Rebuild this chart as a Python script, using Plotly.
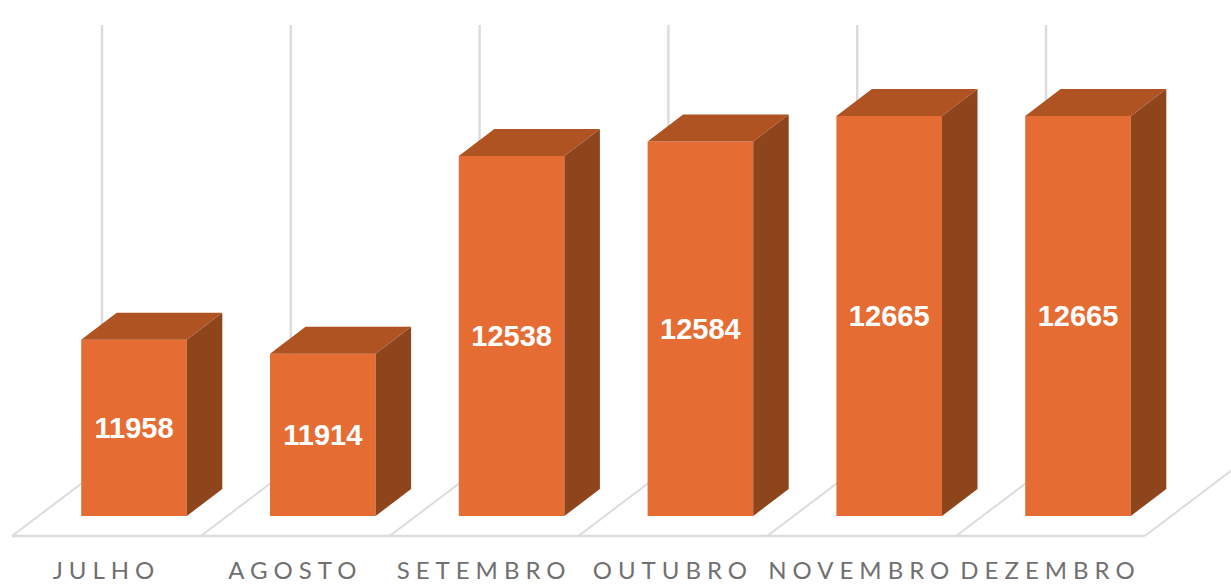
import plotly.graph_objects as go

categories = ["JULHO", "AGOSTO", "SETEMBRO", "OUTUBRO", "NOVEMBRO", "DEZEMBRO"]
values = [11958, 11914, 12538, 12584, 12665, 12665]

W, H = 1231, 585
BOTTOM_MARGIN = 44
SLOT_PX = 188.8
FIRST_CENTER_PX = 134.0
PX_PER_UNIT = 0.3168
BAR_BASE = 11402
BASE_PX = 516.0


def ux(px):
    return px / SLOT_PX


def uy(px):
    return px / PX_PER_UNIT


BAR_WIDTH = ux(105.6)
DEPTH_X = ux(35.5)
DEPTH_Y = uy(27)

FRONT = "#E56D33"
TOP = "#AE5321"
SIDE = "#8F451C"
GRID = "#DCDCDC"
LABEL = "#707070"

axis_px_h = H - BOTTOM_MARGIN
x_range = [ux(-FIRST_CENTER_PX), ux(W - FIRST_CENTER_PX)]
y_low = BAR_BASE - uy(axis_px_h - BASE_PX)
y_range = [y_low, y_low + uy(axis_px_h)]

xs = list(range(len(categories)))
half = BAR_WIDTH / 2

fig = go.Figure()

# front faces
fig.add_trace(go.Bar(
    x=xs,
    y=[v - BAR_BASE for v in values],
    base=BAR_BASE,
    width=BAR_WIDTH,
    marker=dict(color=FRONT, line=dict(width=0)),
    text=[str(v) for v in values],
    textposition="inside",
    insidetextanchor="middle",
    textangle=0,
    constraintext="none",
    insidetextfont=dict(family="Liberation Sans", size=29, color="#FFFFFF", weight="bold"),
    hoverinfo="skip",
))

# side faces
sx, sy = [], []
for i, v in zip(xs, values):
    r = i + half
    sx += [r, r + DEPTH_X, r + DEPTH_X, r, None]
    sy += [BAR_BASE, BAR_BASE + DEPTH_Y, v + DEPTH_Y, v, None]
fig.add_trace(go.Scatter(x=sx, y=sy, mode="lines", fill="toself", fillcolor=SIDE,
                         line=dict(width=0, color=SIDE), hoverinfo="skip"))

# top faces
tx, ty = [], []
for i, v in zip(xs, values):
    l, r = i - half, i + half
    tx += [l, r, r + DEPTH_X, l + DEPTH_X, None]
    ty += [v, v, v + DEPTH_Y, v + DEPTH_Y, None]
fig.add_trace(go.Scatter(x=tx, y=ty, mode="lines", fill="toself", fillcolor=TOP,
                         line=dict(width=0, color=TOP), hoverinfo="skip"))

# floor and back grid (drawn beneath the traces)
floor_y = BAR_BASE - uy(20)
shapes = []
grid_top = BAR_BASE + uy(BASE_PX - 25)
left_edge = ux(12 - FIRST_CENTER_PX)
line = dict(color=GRID, width=2.5)
shapes.append(dict(type="line", xref="x", yref="y", x0=left_edge, x1=left_edge + len(xs),
                   y0=floor_y, y1=floor_y, line=line, layer="below"))
for k in range(len(xs) + 1):
    fx = left_edge + k
    shapes.append(dict(type="line", xref="x", yref="y", x0=fx, x1=fx + ux(90),
                       y0=floor_y, y1=floor_y + uy(68), line=dict(color=GRID, width=2), layer="below"))
for i in xs:
    gx = i + ux(102 - FIRST_CENTER_PX)
    shapes.append(dict(type="line", xref="x", yref="y", x0=gx, x1=gx,
                       y0=BAR_BASE, y1=grid_top, line=line, layer="below"))

fig.update_layout(
    width=W, height=H,
    margin=dict(l=0, r=0, t=0, b=BOTTOM_MARGIN),
    paper_bgcolor="#FFFFFF",
    plot_bgcolor="#FFFFFF",
    showlegend=False,
    shapes=shapes,
    xaxis=dict(
        range=x_range,
        tickmode="array",
        tickvals=[i + ux(-27.5) for i in xs],
        ticktext=categories,
        showgrid=False, zeroline=False, showline=False,
        ticks="outside", ticklen=8, tickcolor="rgba(0,0,0,0)",
        tickangle=0,
        tickfont=dict(family="Lato", size=24, color=LABEL),
        automargin=False,
    ),
    yaxis=dict(range=y_range, visible=False),
)

post = """
document.body.style.margin = '0';
document.querySelectorAll('.xtick text').forEach(function (t) {
  t.style.letterSpacing = '6px';
});
"""
fig.write_html("out.html", post_script=post, config=dict(displayModeBar=False))
